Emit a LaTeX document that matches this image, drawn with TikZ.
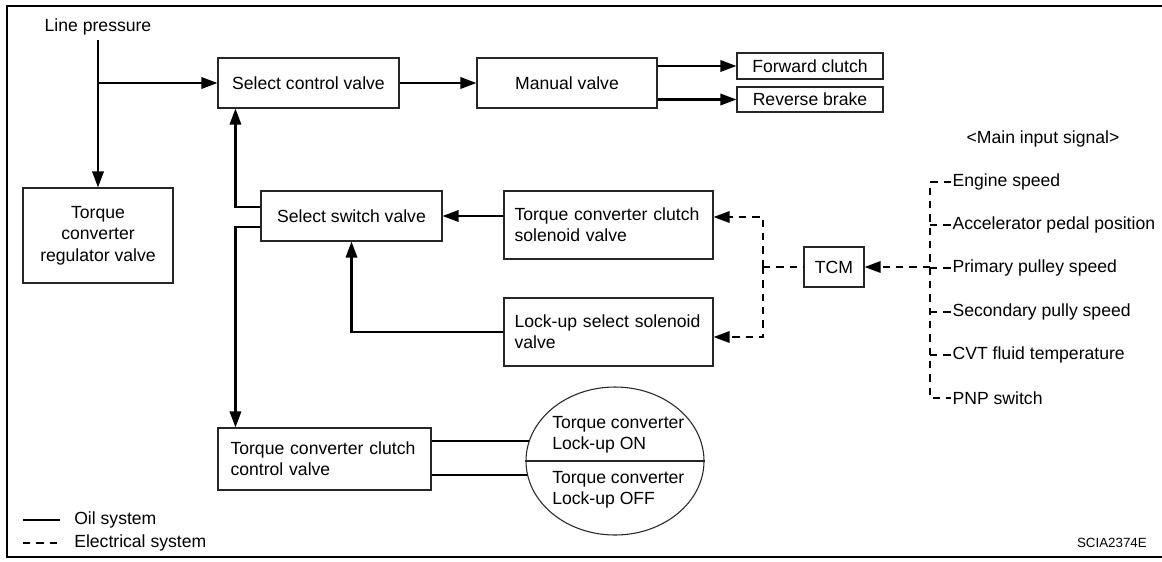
\documentclass[tikz,border=0pt]{standalone}
\usepackage{fontspec}
\setmainfont{Liberation Sans}
\usetikzlibrary{arrows.meta,shapes.geometric}

\begin{document}
\begin{tikzpicture}[x=0.75pt,y=-0.75pt,
   >={Triangle[length=12pt,width=8.5pt]},
   font=\fontsize{13.2}{16}\selectfont,
   valve/.style={draw=black!85,line width=0.8pt,align=center,inner sep=0pt},
   solvalve/.style={draw=black!85,line width=0.8pt,align=left,text width=141pt,
                    inner xsep=7.875pt,inner ysep=0pt},
   oil/.style={line width=1.7pt},
   elec/.style={line width=1.5pt,dash pattern=on 5.5pt off 4.5pt},
   sig/.style={anchor=west,inner sep=1pt}]
   \useasboundingbox (0,0) rectangle (1162,561);
   \draw[line width=2pt] (1162,6) -- (7,6) -- (7,557) -- (1162,557);

   \node (lp) at (98,27) {Line pressure};
   \node[valve,minimum width=112.5pt,minimum height=71.25pt] (regv) at (98,235.5)
        {Torque\\converter\\regulator valve};
   \node[valve,minimum width=135.75pt,minimum height=37.5pt] (scv) at (308.5,83) {Select control valve};
   \node[valve,minimum width=135pt,minimum height=37.5pt] (mv) at (567,83) {Manual valve};
   \node[valve,minimum width=109.5pt,minimum height=19.5pt] (fc) at (810,66) {Forward clutch};
   \node[valve,minimum width=109.5pt,minimum height=18.75pt] (rb) at (810,99.5) {Reverse brake};
   \node[valve,minimum width=135.75pt,minimum height=37.5pt] (ssv) at (351.5,216) {Select switch valve};
   \node[solvalve,minimum height=51pt] (tccsol) at (608.5,225) {Torque converter clutch\\solenoid valve};
   \node[solvalve,minimum height=51pt] (lusol) at (608.5,332) {Lock-up select solenoid\\valve};
   \node[solvalve,inner xsep=9.375pt,minimum height=46.5pt] (tccctl) at (324.5,459)
        {Torque converter clutch\\control valve};
   \node[valve,minimum width=45pt,minimum height=30pt] (tcm) at (834,267) {TCM};
   \node[ellipse,draw=black!85,line width=0.8pt,minimum width=133.5pt,minimum height=111pt,
         inner sep=0pt] (tulock) at (615,461) {};
   \node[anchor=west,align=left,inner sep=0pt] (luon) at (552,435) {Torque converter\\Lock-up ON};
   \node[anchor=west,align=left,inner sep=0pt] (luoff) at (552,490) {Torque converter\\Lock-up OFF};

   \node (mis) at (1043,139) {<Main input signal>};
   \node[sig] (sig1) at (951,182) {Engine speed};
   \node[sig] (sig2) at (951,225) {Accelerator pedal position};
   \node[sig] (sig3) at (951,268) {Primary pulley speed};
   \node[sig] (sig4) at (951,312) {Secondary pully speed};
   \node[sig] (sig5) at (951,355) {CVT fluid temperature};
   \node[sig] (sig6) at (951,398) {PNP switch};

   \coordinate (lpjoin) at (98,83);
   \coordinate (tcmbus) at (763,267);
   \coordinate (bustop) at (930,182);
   \coordinate (busbot) at (930,398);
   \coordinate (oilkey) at (23,520);
   \coordinate (eleckey) at (23,543);
   \node[anchor=west,inner sep=0pt] (oiltxt) at (74,520) {Oil system};
   \node[anchor=west,inner sep=0pt] (electxt) at (74,543) {Electrical system};
   \node[anchor=east,inner sep=0pt,font=\fontsize{10}{12}\selectfont] (code) at (1147,543) {SCIA2374E};

   \draw[oil,->] (lp.south) -- (regv.north);
   \draw[oil,->] (lpjoin) -- (scv.west);
   \draw[oil,->] (scv.east) -- (mv.west);
   \draw[oil,->] (mv.east |- fc.west) -- (fc.west);
   \draw[oil,->] (mv.east |- rb.west) -- (rb.west);
   \draw[oil,->] (tccsol.west |- ssv.east) -- (ssv.east);
   \draw[oil,->] (lusol.west) -| (ssv.south);
   \draw[oil,->] ([yshift=6.75pt]ssv.west) -| ([xshift=13.5pt]scv.south west);
   \draw[oil,->] ([yshift=-8.25pt]ssv.west) -| ([xshift=13.5pt]tccctl.north west);
   \draw[oil] (tccctl.east |- tulock.167.5) -- (tulock.167.5);
   \draw[oil] (tccctl.east |- tulock.189.8) -- (tulock.189.8);
   \draw[line width=0.8pt,black!85] (tulock.west) -- (tulock.east);

   \draw[elec] (tcmbus) -- (tcm.west);
   \draw[elec,->] (tcmbus) |- ([yshift=6pt]tccsol.east);
   \draw[elec,->] (tcmbus) |- ([yshift=-3.75pt]lusol.east);
   \draw[elec,->] (bustop |- tcm.east) -- (tcm.east);
   \draw[elec] (sig1.west) -- (bustop) -- (busbot) -- (sig6.west);
   \foreach \s in {2,...,5}
     \draw[elec] (bustop |- sig\s.west) -- (sig\s.west);

   \draw[oil] (oilkey) -- ++(37,0);
   \draw[elec] (eleckey) -- ++(37,0);
\end{tikzpicture}
\end{document}
